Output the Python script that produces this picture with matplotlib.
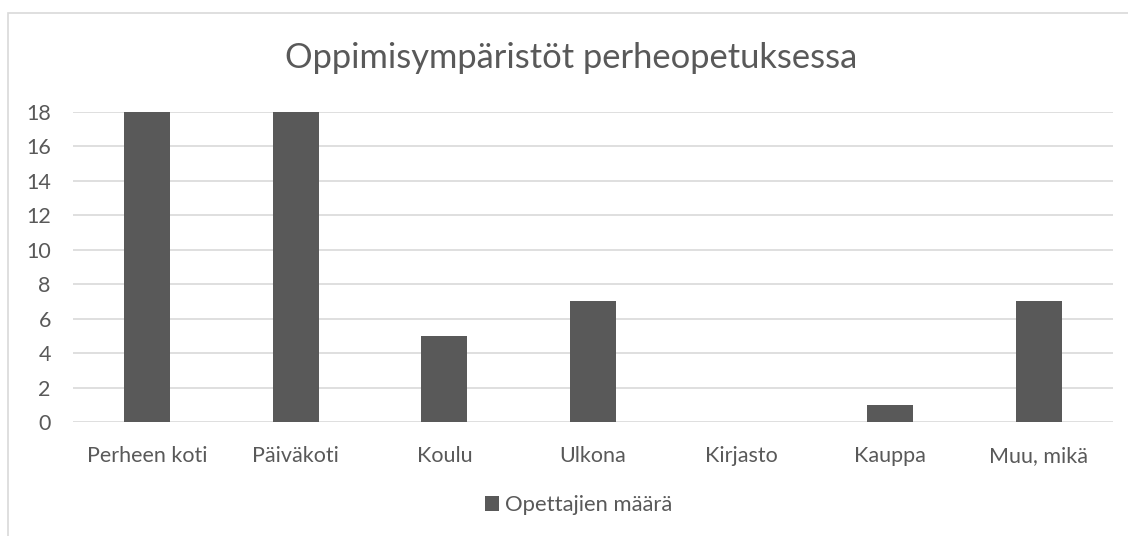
import matplotlib.pyplot as plt
from matplotlib.patches import Rectangle

categories = ["Perheen koti", "Päiväkoti", "Koulu", "Ulkona", "Kirjasto", "Kauppa", "Muu, mikä"]
counts = [18, 18, 5, 7, 0, 1, 7]
series_name = "Opettajien määrä"
yticks = list(range(0, 19, 2))

plt.rcParams['font.family'] = ['Lato', 'DejaVu Sans']
txt = '#595959'

fig = plt.figure(figsize=(11.28, 5.36), dpi=100)
# chart border, as in the Excel export (right/bottom cut off)
fig.patches.append(Rectangle((8/1128, -0.1), 1.2, (536-13)/536 + 0.1, transform=fig.transFigure,
                             fill=False, edgecolor='#d9d9d9', linewidth=1.2))

ax = fig.add_axes([73/1128, 114/536, 1040/1128, 310/536])
x = range(len(categories))
ax.bar(x, counts, width=0.31, color='#595959', label=series_name, zorder=3)
ax.set_xlim(-0.5, len(categories) - 0.5)
ax.set_ylim(0, 18)
ax.set_yticks(yticks)
ax.set_xticks(list(x))
ax.set_xticklabels(categories)
ax.grid(axis='y', color='#d9d9d9', linewidth=1.2, zorder=0)
for s in ax.spines.values():
    s.set_visible(False)
ax.tick_params(length=0, labelsize=15.5, colors=txt)
ax.tick_params(axis='x', pad=17)
ax.tick_params(axis='y', pad=16)

fig.text(0.506, 0.892, "Oppimisympäristöt perheopetuksessa", ha='center', va='center',
         fontsize=24.8, color=txt)
fig.legend(loc='center', bbox_to_anchor=(0.513, 0.058), frameon=False, fontsize=15.8,
           handlelength=0.65, handleheight=0.65, handletextpad=0.3, labelcolor=txt)

fig.savefig("out.png", dpi=100)
